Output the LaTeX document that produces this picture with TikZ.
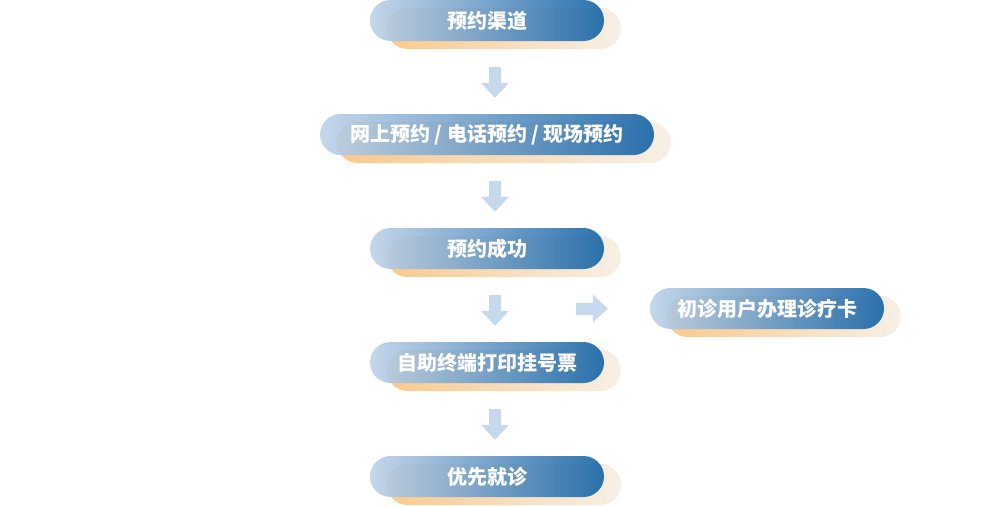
\documentclass[tikz,border=0pt]{standalone}
\usepackage{fontspec}
\setmainfont{Noto Sans CJK SC}
\usetikzlibrary{arrows.meta,shadows}
\definecolor{pillleft}{HTML}{BED2E8}
\definecolor{pillright}{HTML}{1563A6}
\definecolor{backleft}{HTML}{F9C98C}
\definecolor{backright}{HTML}{F7F0E6}
\definecolor{flowblue}{HTML}{C5D8EC}
\tikzset{
  stage/.style={rectangle, rounded corners=20.5pt, minimum width=234pt, minimum height=41pt, inner sep=0pt,
    left color=pillleft, right color=pillright, fill opacity=.9, text opacity=1, text=white,
    font=\fontsize{20}{24}\selectfont\bfseries,
    general shadow={shadow xshift=17pt, shadow yshift=-8pt, fill opacity=1, left color=backleft, right color=backright}},
  flow/.style={draw=flowblue, line width=12pt, -{Triangle[width=27pt,length=15pt]}, shorten <=26pt, shorten >=16pt}
}
\begin{document}
\begin{tikzpicture}[x=1pt, y=-1pt]
				\useasboundingbox (0,0) rectangle (990,506);
				\node [stage] (channel) at (487,20.5) {预约渠道};
				\node [stage, minimum width=334pt] (ways) at (487,134.5) {网上预约 / 电话预约 / 现场预约};
				\node [stage] (booked) at (487,248.5) {预约成功};
				\node [stage] (ticket) at (487,362.5) {自助终端打印挂号票};
				\node [stage] (visit) at (487,476.5) {优先就诊};
				\node [stage] (card) at (767,308.5) {初诊用户办理诊疗卡};
				\draw [flow] ([xshift=8pt]channel.south) -- ([xshift=8pt]ways.north);
				\draw [flow] ([xshift=8pt]ways.south) -- ([xshift=8pt]booked.north);
				\draw [flow] ([xshift=8pt]booked.south) -- ([xshift=8pt]ticket.north);
				\draw [flow] ([xshift=8pt]ticket.south) -- ([xshift=8pt]visit.north);
				\draw [flow, shorten <=0pt, shorten >=0pt] ([xshift=-74pt]card.west) -- ([xshift=-42pt]card.west);
			\end{tikzpicture}
\end{document}
